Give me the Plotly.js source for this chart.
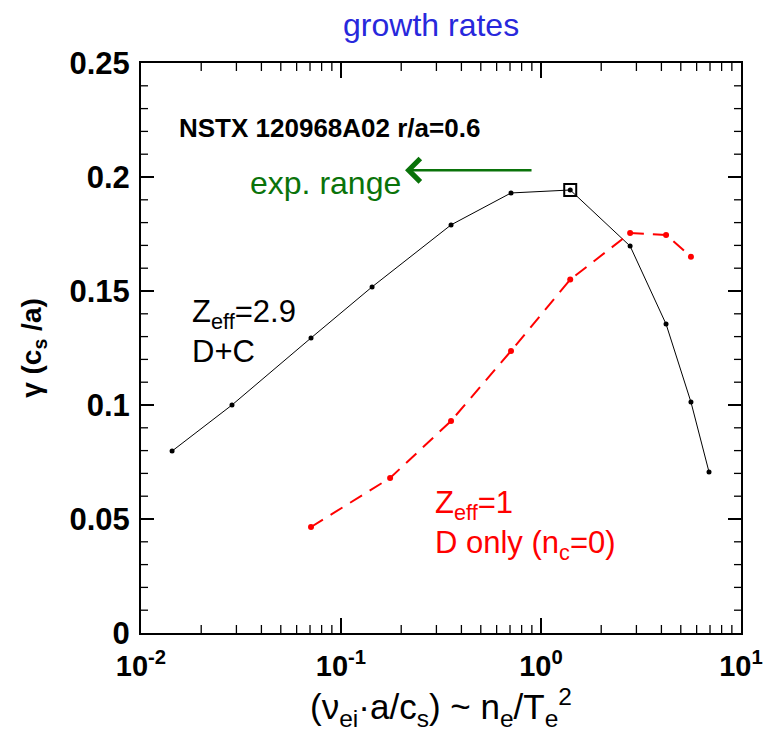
<!DOCTYPE html>
<html><head><meta charset="utf-8">
<script src="https://cdn.plot.ly/plotly-3.0.1.min.js"></script>
<style>body{margin:0;background:#fff}#chart{width:763px;height:736px}</style>
</head><body><div id="chart"></div>
<script>
// D+C (Zeff=2.9) series
const nuDC = [0.0143, 0.0285, 0.0708, 0.143, 0.355, 0.708, 1.40, 2.79, 4.22, 5.62, 6.92];
const gammaDC = [0.0798, 0.1000, 0.1294, 0.1518, 0.1790, 0.1930, 0.1943, 0.1697, 0.1355, 0.1013, 0.0706];
// D only (Zeff=1) series
const nuD = [0.0708, 0.176, 0.355, 0.708, 1.40, 2.79, 4.22, 5.62];
const gammaD = [0.0465, 0.0680, 0.0930, 0.1237, 0.1550, 0.1754, 0.1746, 0.1650];
// experimental point highlighted
const nuExp = [1.40];
const gammaExp = [0.1943];
// arrow (exp. range)
const arrowTip = {x: 0.209, y: 0.203};
const xTickVals = [0.01, 0.1, 1, 10];
const xTickText = ['10<sup>-2</sup>', '10<sup>-1</sup>', '10<sup>0</sup>', '10<sup>1</sup>'];
const yTickVals = [0, 0.05, 0.1, 0.15, 0.2, 0.25];
const yTickText = ['0', '0.05', '0.1', '0.15', '0.2', '0.25'];
const xMinorVals = [0.02, 0.03, 0.04, 0.05, 0.06, 0.07, 0.08, 0.09,
                    0.2, 0.3, 0.4, 0.5, 0.6, 0.7, 0.8, 0.9,
                    2, 3, 4, 5, 6, 7, 8, 9];
const yMinorVals = [0.01, 0.02, 0.03, 0.04, 0.06, 0.07, 0.08, 0.09, 0.11, 0.12, 0.13, 0.14,
                    0.16, 0.17, 0.18, 0.19, 0.21, 0.22, 0.23, 0.24];

const F = 'Liberation Sans, Arial, sans-serif';
const traces = [
  {x: nuDC, y: gammaDC, mode: 'lines+markers', line: {color: 'black', width: 1},
   marker: {color: 'black', size: 5}, hoverinfo: 'skip'},
  {x: nuD, y: gammaD, mode: 'lines+markers', line: {color: 'red', width: 2, dash: '14px,9px'},
   marker: {color: 'red', size: 6}, hoverinfo: 'skip'},
  {x: nuExp, y: gammaExp, mode: 'markers',
   marker: {symbol: 'square-open', color: 'black', size: 12, line: {width: 2, color: 'black'}}, hoverinfo: 'skip'}
];

// tick marks drawn on the axes' own scales (x in data units, y as fraction of the domain)
const plotW = 600, plotH = 570;
const shapes = [];
function xTick(v, len, w) {
  const f = len / plotH;
  shapes.push({type: 'line', xref: 'x', yref: 'y domain', x0: v, x1: v, y0: 0, y1: f, line: {color: 'black', width: w}});
  shapes.push({type: 'line', xref: 'x', yref: 'y domain', x0: v, x1: v, y0: 1 - f, y1: 1, line: {color: 'black', width: w}});
}
function yTick(v, len, w) {
  const f = len / plotW;
  shapes.push({type: 'line', xref: 'x domain', yref: 'y', x0: 0, x1: f, y0: v, y1: v, line: {color: 'black', width: w}});
  shapes.push({type: 'line', xref: 'x domain', yref: 'y', x0: 1 - f, x1: 1, y0: v, y1: v, line: {color: 'black', width: w}});
}
xMinorVals.forEach(v => xTick(v, 8, 1.3));
xTickVals.slice(1, -1).forEach(v => xTick(v, 15, 1.8));
yMinorVals.forEach(v => yTick(v, 7, 1.3));
yTickVals.slice(1, -1).forEach(v => yTick(v, 13, 1.8));

const layout = {
  width: 763, height: 736, showlegend: false,
  paper_bgcolor: 'white', plot_bgcolor: 'white',
  margin: {l: 141, r: 22, t: 63, b: 103},
  font: {family: F, color: 'black'},
  title: {text: 'growth rates', font: {family: F, size: 32, color: 'rgb(40,40,220)'},
          x: 0.565, xanchor: 'center', y: 0.966, yanchor: 'middle', xref: 'container', yref: 'container'},
  xaxis: {type: 'log', range: [-2, 1], showgrid: false, zeroline: false,
          showline: true, linecolor: 'black', linewidth: 2, mirror: 'allticks',
          ticks: 'inside', ticklen: 15, tickwidth: 1.8, tickcolor: 'black',
          tickmode: 'array', tickvals: xTickVals, ticktext: xTickText, ticklabelstandoff: 6,
          tickfont: {family: F, size: 29, color: 'black', weight: 'bold'},
          title: {text: '(ν<sub>ei</sub>·a/c<sub>s</sub>) ~ n<sub>e</sub>/T<sub>e</sub><sup>2</sup>', font: {family: F, size: 35}, standoff: 14},
          automargin: false},
  yaxis: {range: [0, 0.25], showgrid: false, zeroline: false,
          showline: true, linecolor: 'black', linewidth: 2, mirror: 'allticks',
          ticks: 'inside', ticklen: 13, tickwidth: 1.8, tickcolor: 'black',
          tickmode: 'array', tickvals: yTickVals, ticktext: yTickText, ticklabelstandoff: 3,
          tickfont: {family: F, size: 31, color: 'black', weight: 'bold'},
          title: {text: '<b>γ (c<sub>s</sub> /a)</b>', font: {family: F, size: 28}, standoff: 20},
          automargin: false},
  shapes: shapes,
  annotations: [
    {xref: 'paper', yref: 'paper', x: 0.06, y: 0.886, xanchor: 'left', yanchor: 'middle', showarrow: false,
     text: '<b>NSTX 120968A02 r/a=0.6</b>', font: {family: F, size: 26, color: 'black'}},
    {xref: 'paper', yref: 'paper', x: 0.178, y: 0.79, xanchor: 'left', yanchor: 'middle', showarrow: false,
     text: 'exp. range', font: {family: F, size: 32, color: 'rgb(10,115,10)'}},
    {xref: 'x', yref: 'y', x: Math.log10(arrowTip.x), y: arrowTip.y, ax: 128, ay: 0, axref: 'pixel', ayref: 'pixel',
     showarrow: true, arrowhead: 4, arrowsize: 1.8, arrowwidth: 2.5, arrowcolor: 'rgb(10,115,10)', text: ''},
    {xref: 'paper', yref: 'paper', x: 0.082, y: 0.529, xanchor: 'left', yanchor: 'middle', showarrow: false, align: 'left',
     text: 'Z<sub>eff</sub>=2.9<br>D+C', font: {family: F, size: 31, color: 'black'}},
    {xref: 'paper', yref: 'paper', x: 0.487, y: 0.19, xanchor: 'left', yanchor: 'middle', showarrow: false, align: 'left',
     text: 'Z<sub>eff</sub>=1<br>D only (n<sub>c</sub>=0)', font: {family: F, size: 31, color: 'red'}}
  ]
};
Plotly.newPlot('chart', traces, layout, {displayModeBar: false, staticPlot: true});
</script></body></html>
